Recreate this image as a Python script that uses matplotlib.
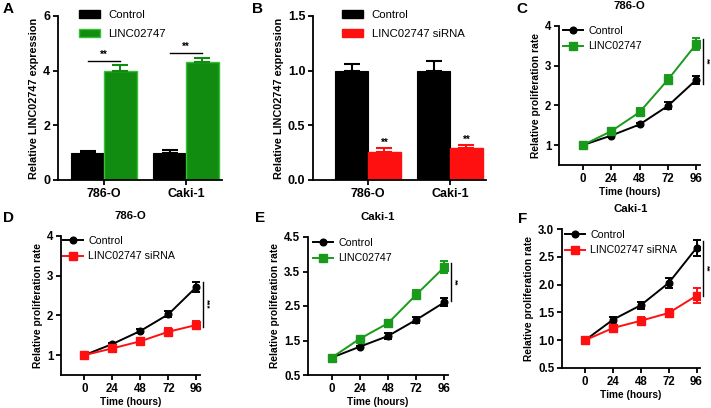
import matplotlib
matplotlib.use('Agg')
import matplotlib.pyplot as plt
from matplotlib.patches import Patch
from matplotlib.lines import Line2D
import numpy as np

plt.rcParams['font.family'] = ['Liberation Sans', 'DejaVu Sans']

# ---------------- data ----------------
cells = ['786-O', 'Caki-1']
a_ctrl = [1.0, 1.0]
a_ctrl_err = [0.06, 0.08]
a_linc = [4.0, 4.33]
a_linc_err = [0.22, 0.15]
b_ctrl = [1.0, 1.0]
b_ctrl_err = [0.06, 0.09]
b_si = [0.26, 0.29]
b_si_err = [0.035, 0.03]

hours = [0, 24, 48, 72, 96]
c_ctrl = [1.0, 1.24, 1.52, 1.99, 2.65]
c_ctrl_err = [0.03, 0.03, 0.04, 0.09, 0.10]
c_linc = [1.0, 1.35, 1.83, 2.65, 3.55]
c_linc_err = [0.03, 0.05, 0.10, 0.12, 0.15]
d_ctrl = [1.0, 1.28, 1.61, 2.03, 2.72]
d_ctrl_err = [0.03, 0.03, 0.04, 0.08, 0.13]
d_si = [1.0, 1.17, 1.35, 1.59, 1.76]
d_si_err = [0.03, 0.05, 0.04, 0.09, 0.10]
e_ctrl = [1.0, 1.32, 1.63, 2.10, 2.61]
e_ctrl_err = [0.03, 0.03, 0.08, 0.08, 0.12]
e_linc = [1.0, 1.55, 2.0, 2.83, 3.63]
e_linc_err = [0.03, 0.04, 0.10, 0.12, 0.17]
f_ctrl = [1.0, 1.37, 1.63, 2.03, 2.66]
f_ctrl_err = [0.05, 0.05, 0.06, 0.09, 0.14]
f_si = [1.0, 1.22, 1.35, 1.49, 1.80]
f_si_err = [0.05, 0.07, 0.07, 0.08, 0.13]

GREEN = '#118c11'
GREEN_EDGE = '#35c035'
GREEN_LINE = '#1a9a1a'
RED = '#ff1010'

W, H = 711, 408
fig = plt.figure(figsize=(W / 100, H / 100), dpi=100)


def add_ax(left, top, right, bottom):
    return fig.add_axes([left / W, 1 - bottom / H, (right - left) / W, (bottom - top) / H])


def style(ax, tick_fs):
    for s in ['top', 'right']:
        ax.spines[s].set_visible(False)
    for s in ['left', 'bottom']:
        ax.spines[s].set_linewidth(1.3)
    ax.tick_params(axis='both', width=1.3, length=3.5, labelsize=tick_fs, pad=2)
    for lab in ax.get_xticklabels() + ax.get_yticklabels():
        lab.set_fontweight('bold')


def fig_text(x, y, s, **kw):
    fig.text(x / W, 1 - y / H, s, **kw)


def bar_panel(ax, ctrl, ctrl_err, trt, trt_err, tcolor, tedge, tlabel, ylim, yticks, yticklabels, xlim, leg_xy):
    x = np.arange(len(cells))
    w = 0.4
    ax.bar(x - w / 2, ctrl, w, color='black', edgecolor='black', lw=0.8, zorder=2)
    ax.bar(x + w / 2, trt, w, color=tcolor, edgecolor=tedge, lw=1.0, zorder=2)
    ax.errorbar(x - w / 2, ctrl, yerr=[np.zeros(len(ctrl)), ctrl_err], fmt='none',
                ecolor='black', elinewidth=1.5, capsize=5.5, capthick=1.5, zorder=3)
    ax.errorbar(x + w / 2, trt, yerr=[np.zeros(len(trt)), trt_err], fmt='none',
                ecolor=tcolor, elinewidth=1.5, capsize=5.5, capthick=1.5, zorder=3)
    ax.set_xlim(*xlim)
    ax.set_ylim(*ylim)
    ax.set_yticks(yticks)
    ax.set_yticklabels(yticklabels)
    ax.set_xticks(x)
    ax.set_xticklabels(cells)
    ax.set_ylabel('Relative LINC02747 expression', fontsize=7.8, fontweight='bold', labelpad=3)
    style(ax, 9)
    handles = [Patch(facecolor='black', edgecolor='black'),
               Patch(facecolor=tcolor, edgecolor=tedge)]
    fig.legend(handles, ['Control', tlabel], loc='upper left',
               bbox_to_anchor=(leg_xy[0] / W, 1 - leg_xy[1] / H), bbox_transform=fig.transFigure,
               frameon=False, fontsize=8.2, handlelength=1.8, handleheight=0.75,
               handletextpad=0.8, labelspacing=0.75, borderpad=0, borderaxespad=0)
    return x, w


def line_panel(ax, ctrl, ctrl_err, trt, trt_err, tcolor, tlabel, ylim, yticks, yticklabels,
               title, sig_y, sig_txt, leg_xy):
    ax.errorbar(hours, ctrl, yerr=ctrl_err, color='black', marker='o', ms=4.8, lw=1.4,
                elinewidth=1.4, capsize=3, capthick=1.4, zorder=3)
    ax.errorbar(hours, trt, yerr=trt_err, color=tcolor, marker='s', ms=5.2, lw=1.4,
                elinewidth=1.4, capsize=3, capthick=1.4, zorder=3)
    ax.set_xlim(-20, 99)
    ax.set_ylim(*ylim)
    ax.set_xticks(hours)
    ax.set_yticks(yticks)
    ax.set_yticklabels(yticklabels)
    ax.set_xlabel('Time (hours)', fontsize=7.3, fontweight='bold', labelpad=2)
    ax.set_ylabel('Relative proliferation rate', fontsize=7.4, fontweight='bold', labelpad=3)
    ax.set_title(title, fontsize=8.2, fontweight='bold', pad=12)
    style(ax, 8.3)
    ax.plot([101.5, 101.5], sig_y, color='black', lw=1.0, clip_on=False)
    ax.text(104.3, np.mean(sig_y), sig_txt, rotation=270, ha='center', va='center',
            fontsize=6, fontweight='bold', clip_on=False)
    handles = [Line2D([], [], color='black', marker='o', ms=4.8, lw=1.4),
               Line2D([], [], color=tcolor, marker='s', ms=5.2, lw=1.4)]
    fig.legend(handles, ['Control', tlabel], loc='upper left',
               bbox_to_anchor=(leg_xy[0] / W, 1 - leg_xy[1] / H), bbox_transform=fig.transFigure,
               frameon=False, fontsize=7.7, handlelength=1.9, handletextpad=0.45,
               labelspacing=0.5, borderpad=0, borderaxespad=0)


# ---------------- Panel A ----------------
axA = add_ax(58, 16, 222, 180)
x, w = bar_panel(axA, a_ctrl, a_ctrl_err, a_linc, a_linc_err, GREEN, GREEN_EDGE, 'LINC02747',
                 (0, 6), [0, 2, 4, 6], ['0', '2', '4', '6'], (-0.56, 1.44), (79, 10))
for xi, yl in zip(x, [4.35, 4.65]):
    axA.plot([xi - w / 2, xi + w / 2], [yl, yl], color='black', lw=1.0)
    axA.text(xi, yl + 0.03, '**', ha='center', va='bottom', fontsize=7, fontweight='bold')

# ---------------- Panel B ----------------
axB = add_ax(313, 16, 486, 180)
x, w = bar_panel(axB, b_ctrl, b_ctrl_err, b_si, b_si_err, RED, RED, 'LINC02747 siRNA',
                 (0, 1.5), [0, 0.5, 1.0, 1.5], ['0.0', '0.5', '1.0', '1.5'], (-0.67, 1.44), (342, 10))
for xi, v, e in zip(x, b_si, b_si_err):
    axB.text(xi + w / 2, v + e + 0.003, '**', ha='center', va='bottom', fontsize=7, fontweight='bold')

# ---------------- Panel C ----------------
axC = add_ax(559, 26, 700, 165)
line_panel(axC, c_ctrl, c_ctrl_err, c_linc, c_linc_err, GREEN_LINE, 'LINC02747',
           (0.5, 4), [1, 2, 3, 4], ['1', '2', '3', '4'], '786-O', [3.67, 2.54], '**', (563, 26))

# ---------------- Panel D ----------------
axD = add_ax(61, 236, 200, 375)
line_panel(axD, d_ctrl, d_ctrl_err, d_si, d_si_err, RED, 'LINC02747 siRNA',
           (0.5, 4), [1, 2, 3, 4], ['1', '2', '3', '4'], '786-O', [2.85, 1.72], '***', (63, 236))

# ---------------- Panel E ----------------
axE = add_ax(308, 237, 448, 375)
line_panel(axE, e_ctrl, e_ctrl_err, e_linc, e_linc_err, GREEN_LINE, 'LINC02747',
           (0.5, 4.5), [0.5, 1.5, 2.5, 3.5, 4.5], ['0.5', '1.5', '2.5', '3.5', '4.5'], 'Caki-1',
           [3.75, 2.65], '**', (313, 238))

# ---------------- Panel F ----------------
axF = add_ax(562, 229, 700, 368)
line_panel(axF, f_ctrl, f_ctrl_err, f_si, f_si_err, RED, 'LINC02747 siRNA',
           (0.5, 3.0), [0.5, 1.0, 1.5, 2.0, 2.5, 3.0], ['0.5', '1.0', '1.5', '2.0', '2.5', '3.0'],
           'Caki-1', [2.78, 1.8], '**', (565, 230))

# panel letters
for s, xx, yy in [('A', 3, 9), ('B', 252, 9), ('C', 516, 9), ('D', 3, 218), ('E', 255, 218), ('F', 518, 219)]:
    fig_text(xx, yy, s, fontsize=11, fontweight='bold', ha='left', va='center')

fig.savefig('out.png', dpi=100)
